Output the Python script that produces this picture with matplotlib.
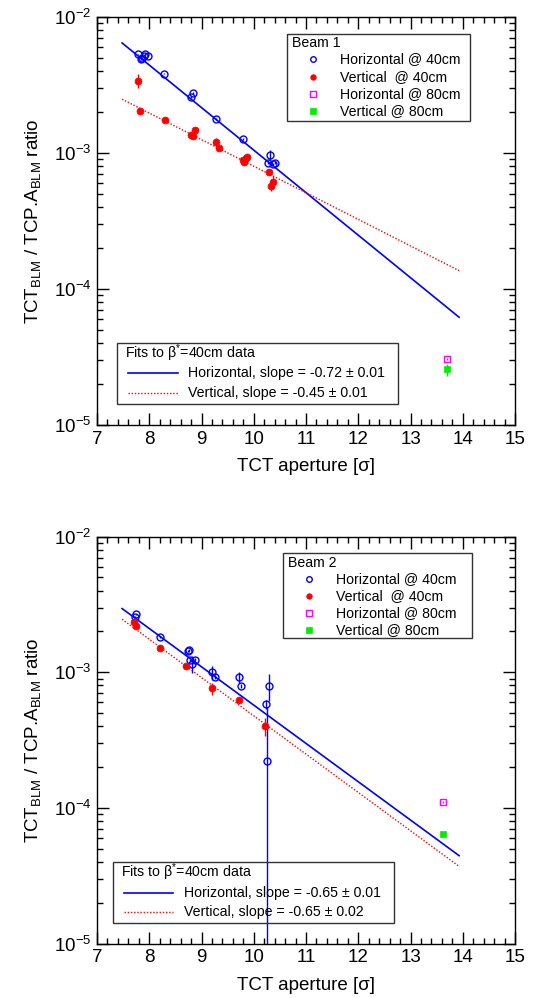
import numpy as np
import matplotlib
matplotlib.use("Agg")
import matplotlib.pyplot as plt
from matplotlib.lines import Line2D
from matplotlib.patches import Rectangle
from matplotlib.ticker import LogLocator, NullFormatter, MultipleLocator, LogFormatterSciNotation

plt.rcParams['font.family'] = ['Liberation Sans', 'DejaVu Sans']
plt.rcParams['mathtext.fontset'] = 'custom'
plt.rcParams['mathtext.rm'] = 'Liberation Sans'
plt.rcParams['mathtext.it'] = 'Liberation Sans:italic'
plt.rcParams['mathtext.bf'] = 'Liberation Sans:bold'
plt.rcParams['mathtext.sf'] = 'Liberation Sans'

# ---------------- Beam 1 data ----------------
b1_h40_x = [7.79, 7.84, 7.87, 7.89, 7.92, 7.97, 8.29, 8.79, 8.83, 9.28, 9.79, 10.28, 10.32, 10.37, 10.41]
b1_h40_y = [5.3e-3, 4.9e-3, 5.0e-3, 5.2e-3, 5.3e-3, 5.2e-3, 3.83e-3, 2.57e-3, 2.76e-3, 1.77e-3, 1.27e-3,
            8.5e-4, 9.7e-4, 8.3e-4, 8.5e-4]
b1_h40_e = [6e-5, 6e-5, 6e-5, 6e-5, 6e-5, 6e-5, 5e-5, 4e-5, 4e-5, 3e-5, 2e-5, 2e-5, 8e-5, 2e-5, 2e-5]

b1_v40_x = [7.79, 7.83, 8.30, 8.79, 8.83, 8.88, 9.28, 9.33, 9.80, 9.81, 9.85, 9.87, 10.29, 10.33, 10.36]
b1_v40_y = [3.4e-3, 2.05e-3, 1.74e-3, 1.35e-3, 1.34e-3, 1.47e-3, 1.20e-3, 1.08e-3, 8.9e-4, 8.6e-4, 9.2e-4,
            9.3e-4, 7.2e-4, 5.75e-4, 6.15e-4]
b1_v40_e = [4e-4, 4e-5, 3e-5, 3e-5, 3e-5, 3e-5, 8e-5, 3e-5, 2e-5, 2e-5, 2e-5, 2e-5, 3e-5, 5e-5, 6e-5]

b1_h80_x = [13.69]
b1_h80_y = [3.08e-5]
b1_h80_e = [5e-7]
b1_v80_x = [13.69]
b1_v80_y = [2.57e-5]
b1_v80_e = [2.6e-6]

# fit parameters (slope in ln units, fit value at x = 10)
b1_fit_slope = [-0.72, -0.45]
b1_fit_at10 = [1.05e-3, 8.0e-4]
b1_fit_err = [0.01, 0.01]

# ---------------- Beam 2 data ----------------
b2_h40_x = [7.72, 7.75, 8.21, 8.74, 8.76, 8.78, 8.82, 8.88, 9.21, 9.26, 9.72, 9.76, 10.23, 10.25, 10.30]
b2_h40_y = [2.57e-3, 2.67e-3, 1.81e-3, 1.43e-3, 1.45e-3, 1.23e-3, 1.15e-3, 1.24e-3, 1.0e-3, 9.2e-4, 9.2e-4,
            7.9e-4, 5.8e-4, 2.22e-4, 7.9e-4]
b2_h40_e = [4e-5, 4e-5, 3e-5, 3e-5, 3e-5, 3e-5, 1.6e-4, 3e-5, 1.2e-4, 3e-5, 8e-5, 3e-5, 4e-5, 3.3e-4, 1.8e-4]

b2_v40_x = [7.71, 7.75, 8.21, 8.71, 9.21, 9.71, 10.22]
b2_v40_y = [2.33e-3, 2.2e-3, 1.52e-3, 1.12e-3, 7.6e-4, 6.3e-4, 4.0e-4]
b2_v40_e = [3e-5, 3e-5, 2e-5, 2e-5, 8e-5, 2e-5, 6e-5]

b2_h80_x = [13.62]
b2_h80_y = [1.107e-4]
b2_h80_e = [1e-6]
b2_v80_x = [13.62]
b2_v80_y = [6.4e-5]
b2_v80_e = [2e-6]

b2_fit_slope = [-0.65, -0.65]
b2_fit_at10 = [5.73e-4, 4.78e-4]
b2_fit_err = [0.01, 0.02]

fit_range = (7.48, 13.93)

series_labels = ['Horizontal @ 40cm', 'Vertical  @ 40cm', 'Horizontal @ 80cm', 'Vertical @ 80cm']

W, H = 533, 998
fig = plt.figure(figsize=(W / 100, H / 100), dpi=100)


def fp(x, y):
    return x / W, 1 - y / H


BLUE = '#0000ff'
RED = '#ff0000'
MAG = '#ff00ff'
GRN = '#00ee00'
LFS = 10.2


def make_panel(rect, data, slopes, at10, errs, beam_name, beam_box, fit_box):
    ax = fig.add_axes(rect)
    ax.set_yscale('log')
    ax.set_xlim(7, 15)
    ax.set_ylim(1e-5, 1e-2)
    (hx, hy, he), (vx, vy, ve), (h8x, h8y, h8e), (v8x, v8y, v8e) = data

    # fit lines
    xf = np.linspace(fit_range[0], fit_range[1], 200)
    ax.plot(xf, at10[0] * np.exp(slopes[0] * (xf - 10)), color=BLUE, lw=1.2, zorder=2)
    ax.plot(xf, at10[1] * np.exp(slopes[1] * (xf - 10)), color=RED, lw=1.0, ls=(0, (1, 1.3)), zorder=2)

    ax.errorbar(hx, hy, yerr=he, fmt='o', ms=5, mfc='none', mec=BLUE, mew=1.0,
                ecolor=BLUE, elinewidth=1.0, capsize=0, zorder=3)
    ax.errorbar(vx, vy, yerr=ve, fmt='o', ms=5, mfc=RED, mec=RED, mew=0.5,
                ecolor=RED, elinewidth=1.0, capsize=0, zorder=3)
    ax.errorbar(h8x, h8y, yerr=h8e, fmt='s', ms=5, mfc='none', mec=MAG, mew=1.0,
                ecolor=MAG, elinewidth=1.0, capsize=0, zorder=3)
    ax.errorbar(v8x, v8y, yerr=v8e, fmt='s', ms=5, mfc=GRN, mec=GRN, mew=0.5,
                ecolor=GRN, elinewidth=1.0, capsize=0, zorder=3)

    ax.xaxis.set_major_locator(MultipleLocator(1))
    ax.xaxis.set_minor_locator(MultipleLocator(0.2))
    ax.yaxis.set_major_locator(LogLocator(base=10, numticks=10))
    ax.yaxis.set_minor_locator(LogLocator(base=10, subs=np.arange(2, 10), numticks=20))
    ax.yaxis.set_minor_formatter(NullFormatter())
    ax.yaxis.set_major_formatter(LogFormatterSciNotation())
    ax.tick_params(which='both', direction='in', top=True, right=True, width=1.0, labelsize=13.5)
    ax.tick_params(which='major', length=8.5)
    ax.tick_params(which='minor', length=4.5)
    ax.tick_params(axis='x', pad=4)
    ax.tick_params(axis='y', pad=4)
    for s in ax.spines.values():
        s.set_linewidth(1.0)

    ax.set_xlabel('TCT aperture [σ]', fontsize=13.5)
    ax.set_ylabel(r'TCT$_{\mathrm{BLM}}$ / TCP.A$_{\mathrm{BLM}}$ ratio', fontsize=13.5)
    ax.xaxis.set_label_coords(0.5, -0.082)
    ax.yaxis.set_label_coords(-0.13, 0.5)

    # Beam legend
    x0, y0, x1, y1, mx, tx, ty, rows = beam_box
    a, b = fp(x0, y1)
    c, d = fp(x1, y0)
    fig.add_artist(Rectangle((a, b), c - a, d - b, transform=fig.transFigure,
                             fill=False, ec='#333333', lw=1.0))
    fig.text(*fp(tx, ty), beam_name, fontsize=LFS, va='center', ha='left')
    styles = [dict(marker='o', mfc='none', mec=BLUE, mew=1.0),
              dict(marker='o', mfc=RED, mec=RED, mew=0.5),
              dict(marker='s', mfc='none', mec=MAG, mew=1.0),
              dict(marker='s', mfc=GRN, mec=GRN, mew=0.5)]
    txx = rows[0]
    for i, (lab, st) in enumerate(zip(series_labels, styles)):
        yy = rows[1][i]
        fig.add_artist(Line2D([mx / W], [1 - yy / H], transform=fig.transFigure, ls='none', ms=4, **st))
        fig.text(*fp(txx, yy), lab, fontsize=LFS, va='center', ha='left')

    # Fit legend
    x0, y0, x1, y1, tx, ty, lx0, lx1, ltx, ly = fit_box
    a, b = fp(x0, y1)
    c, d = fp(x1, y0)
    fig.add_artist(Rectangle((a, b), c - a, d - b, transform=fig.transFigure,
                             fill=False, ec='#333333', lw=1.0))
    fig.text(*fp(tx, ty), r'Fits to β$^{*}$=40cm data', fontsize=LFS, va='center', ha='left')
    names = ['Horizontal', 'Vertical']
    lstyles = [dict(color=BLUE, lw=1.2), dict(color=RED, lw=1.0, ls=(0, (1, 1.3)))]
    for i in range(2):
        fig.add_artist(Line2D([lx0 / W, lx1 / W], [1 - ly[i] / H] * 2, transform=fig.transFigure, **lstyles[i]))
        fig.text(*fp(ltx, ly[i]), f'{names[i]}, slope = {slopes[i]:.2f} ± {errs[i]:.2f}',
                 fontsize=LFS, va='center', ha='left')
    return ax


top_rect = [97 / W, 1 - 425 / H, 418 / W, 408 / H]
bot_rect = [97 / W, 1 - 943.7 / H, 418 / W, 407.1 / H]

make_panel(top_rect,
           [(b1_h40_x, b1_h40_y, b1_h40_e), (b1_v40_x, b1_v40_y, b1_v40_e),
            (b1_h80_x, b1_h80_y, b1_h80_e), (b1_v80_x, b1_v80_y, b1_v80_e)],
           b1_fit_slope, b1_fit_at10, b1_fit_err, 'Beam 1',
           (287, 34, 470, 121, 313, 292, 42.7, (340, [59.3, 76.7, 94.0, 110.7])),
           (117, 343, 398, 404, 125, 352.7, 128, 178, 188, [373.3, 393.3]))

make_panel(bot_rect,
           [(b2_h40_x, b2_h40_y, b2_h40_e), (b2_v40_x, b2_v40_y, b2_v40_e),
            (b2_h80_x, b2_h80_y, b2_h80_e), (b2_v80_x, b2_v80_y, b2_v80_e)],
           b2_fit_slope, b2_fit_at10, b2_fit_err, 'Beam 2',
           (283, 553, 472, 638, 309, 288, 562.7, (336, [579.3, 595.7, 612.7, 630.0])),
           (113, 862, 394, 923, 121, 871.7, 124, 173, 184, [892.7, 912.3]))

fig.savefig('out.png', dpi=100)
